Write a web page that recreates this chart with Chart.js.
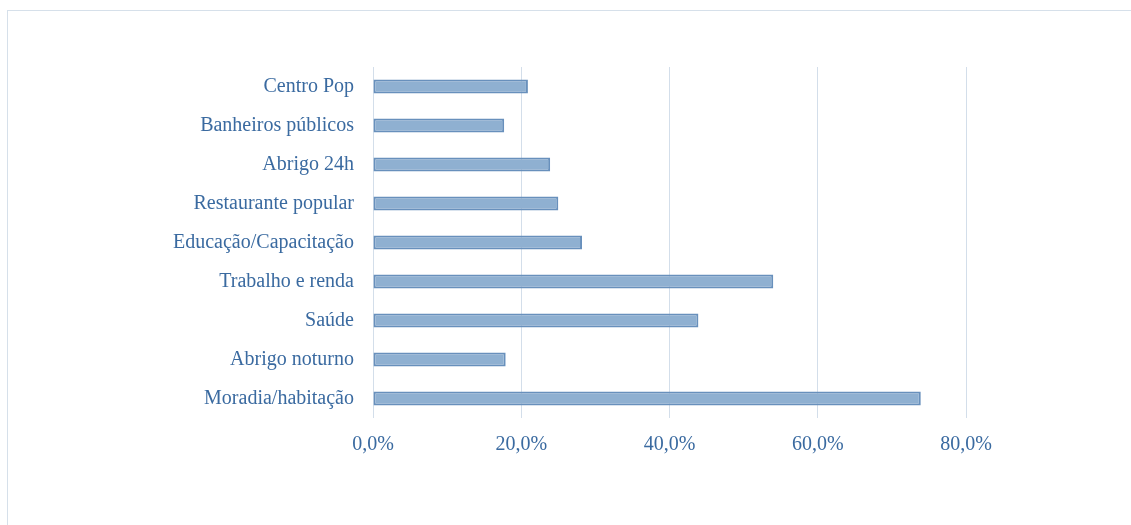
<!DOCTYPE html>
<html>
<head>
<meta charset="utf-8">
<script src="https://cdn.jsdelivr.net/npm/chart.js@4/dist/chart.umd.min.js"></script>
<style>
  body { margin: 0; background: #fff; }
  #frame { position: absolute; left: 7px; top: 10px; width: 1200px; height: 600px; border: 1px solid #d6e0ea; }
  #wrap { position: absolute; left: 0; top: 0; width: 1131px; height: 525px; }
</style>
</head>
<body>
<div id="frame"></div>
<div id="wrap"><canvas id="servicesChart"></canvas></div>
<script>
// categories, top to bottom
var categories = ['Centro Pop', 'Banheiros públicos', 'Abrigo 24h', 'Restaurante popular',
  'Educação/Capacitação', 'Trabalho e renda', 'Saúde', 'Abrigo noturno', 'Moradia/habitação'];
// share of respondents, %
var shares = [20.9, 17.7, 23.9, 25.0, 28.2, 54.0, 43.9, 17.9, 73.9];
var tickValues = [0, 20, 40, 60, 80];

var textColor = '#3a6aa0';
var fontFamily = '"Liberation Serif", "DejaVu Serif", serif';

var ctx = document.getElementById('servicesChart').getContext('2d');
var servicesChart = new Chart(ctx, {
  type: 'bar',
  data: {
    labels: categories,
    datasets: [{
      data: shares,
      backgroundColor: '#8fb0d1',
      borderColor: '#6890bc',
      borderWidth: 2,
      borderSkipped: false,
      barPercentage: 0.36,
      categoryPercentage: 1
    }]
  },
  options: {
    indexAxis: 'y',
    responsive: true,
    maintainAspectRatio: false,
    animation: false,
    layout: {
      padding: { top: 67, right: 165, bottom: 53, left: 0 }
    },
    plugins: {
      legend: { display: false },
      tooltip: { enabled: false }
    },
    scales: {
      x: {
        min: 0,
        max: 80,
        afterBuildTicks: function (axis) {
          axis.ticks = tickValues.map(function (v) { return { value: v }; });
        },
        grid: {
          color: '#d3deea',
          lineWidth: 1,
          drawTicks: false
        },
        border: { display: false },
        ticks: {
          color: textColor,
          font: { family: fontFamily, size: 20 },
          padding: 15,
          callback: function (v) {
            return v.toFixed(1).replace('.', ',') + '%';
          }
        }
      },
      y: {
        grid: { display: false },
        border: { display: false },
        afterFit: function (axis) { axis.width = 373; },
        ticks: {
          color: textColor,
          font: { family: fontFamily, size: 20 },
          padding: 11
        }
      }
    }
  }
});
</script>
</body>
</html>
